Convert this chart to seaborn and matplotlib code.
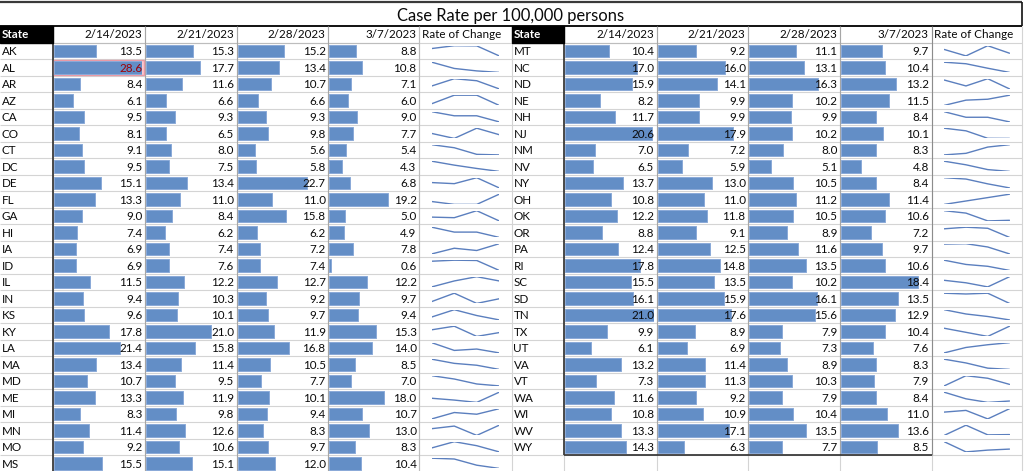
import numpy as np
import pandas as pd
import seaborn as sns
import matplotlib.pyplot as plt
from matplotlib.patches import Rectangle

# ---- data ----
dates = ['2/14/2023', '2/21/2023', '2/28/2023', '3/7/2023']

states_left = ['AK', 'AL', 'AR', 'AZ', 'CA', 'CO', 'CT', 'DC', 'DE', 'FL', 'GA', 'HI', 'IA',
               'ID', 'IL', 'IN', 'KS', 'KY', 'LA', 'MA', 'MD', 'ME', 'MI', 'MN', 'MO', 'MS']
rate_0214_left = [13.5, 28.6, 8.4, 6.1, 9.5, 8.1, 9.1, 9.5, 15.1, 13.3, 9.0, 7.4, 6.9,
                  6.9, 11.5, 9.4, 9.6, 17.8, 21.4, 13.4, 10.7, 13.3, 8.3, 11.4, 9.2, 15.5]
rate_0221_left = [15.3, 17.7, 11.6, 6.6, 9.3, 6.5, 8.0, 7.5, 13.4, 11.0, 8.4, 6.2, 7.4,
                  7.6, 12.2, 10.3, 10.1, 21.0, 15.8, 11.4, 9.5, 11.9, 9.8, 12.6, 10.6, 15.1]
rate_0228_left = [15.2, 13.4, 10.7, 6.6, 9.3, 9.8, 5.6, 5.8, 22.7, 11.0, 15.8, 6.2, 7.2,
                  7.4, 12.7, 9.2, 9.7, 11.9, 16.8, 10.5, 7.7, 10.1, 9.4, 8.3, 9.7, 12.0]
rate_0307_left = [8.8, 10.8, 7.1, 6.0, 9.0, 7.7, 5.4, 4.3, 6.8, 19.2, 5.0, 4.9, 7.8,
                  0.6, 12.2, 9.7, 9.4, 15.3, 14.0, 8.5, 7.0, 18.0, 10.7, 13.0, 8.3, 10.4]

states_right = ['MT', 'NC', 'ND', 'NE', 'NH', 'NJ', 'NM', 'NV', 'NY', 'OH', 'OK', 'OR', 'PA',
                'RI', 'SC', 'SD', 'TN', 'TX', 'UT', 'VA', 'VT', 'WA', 'WI', 'WV', 'WY']
rate_0214_right = [10.4, 17.0, 15.9, 8.2, 11.7, 20.6, 7.0, 6.5, 13.7, 10.8, 12.2, 8.8, 12.4,
                   17.8, 15.5, 16.1, 21.0, 9.9, 6.1, 13.2, 7.3, 11.6, 10.8, 13.3, 14.3]
rate_0221_right = [9.2, 16.0, 14.1, 9.9, 9.9, 17.9, 7.2, 5.9, 13.0, 11.0, 11.8, 9.1, 12.5,
                   14.8, 13.5, 15.9, 17.6, 8.9, 6.9, 11.4, 11.3, 9.2, 10.9, 17.1, 6.3]
rate_0228_right = [11.1, 13.1, 16.3, 10.2, 9.9, 10.2, 8.0, 5.1, 10.5, 11.2, 10.5, 8.9, 11.6,
                   13.5, 10.2, 16.1, 15.6, 7.9, 7.3, 8.9, 10.3, 7.9, 10.4, 13.5, 7.7]
rate_0307_right = [9.7, 10.4, 13.2, 11.5, 8.4, 10.1, 8.3, 4.8, 8.4, 11.4, 10.6, 7.2, 9.7,
                   10.6, 18.4, 13.5, 12.9, 10.4, 7.6, 8.3, 7.9, 8.4, 11.0, 13.6, 8.5]

# cells above this are flagged red on the sheet
HIGHLIGHT_ABOVE = 25.0

# ---- sheet geometry (pixels) ----
W, H = 1024, 471
ROW_H = 16.5
HEAD_TOP, DATA_TOP = 26.0, 42.7
EDGES_LEFT = [0.0, 53.3, 145.0, 236.7, 328.3, 419.3, 511.7]
EDGES_RIGHT = [511.7, 564.3, 656.7, 748.3, 840.0, 931.7, 1022.0]

BAR_BLUE = '#638EC6'
SPARK_BLUE = '#5B7FBE'
TXT = '#0A0A0A'
FONT = ['Lato', 'DejaVu Sans']
FS = 8.4

sns.set_theme(style='white')
plt.rcParams['font.family'] = FONT

fig = plt.figure(figsize=(W / 100, H / 100), dpi=100)
base = fig.add_axes([0, 0, 1, 1])
base.set_xlim(0, W)
base.set_ylim(H, 0)
base.axis('off')


def box(x0, y0, x1, y1):
    return [x0 / W, 1 - y1 / H, (x1 - x0) / W, (y1 - y0) / H]


def hline(y, x0, x1, color, lw=0.8):
    base.plot([x0, x1], [y, y], color=color, lw=lw, solid_capstyle='butt', zorder=1)


def vline(x, y0, y1, color, lw=0.8):
    base.plot([x, x], [y0, y1], color=color, lw=lw, solid_capstyle='butt', zorder=1)


# light sheet gridlines
y = DATA_TOP
while y < H:
    hline(y, 0, 1022, '#D4D4D4')
    y += ROW_H
for x in EDGES_LEFT[1:] + EDGES_RIGHT[1:]:
    vline(x, HEAD_TOP, H, '#D4D4D4')

# title row borders
hline(1.5, 0, 1022, '#3A3A3A', lw=1.6)
hline(25.5, 0, 1022, '#111111', lw=1.4)
vline(1022, 1.5, 25.5, '#111111', lw=1.2)
base.text(511, 20.6, 'Case Rate per 100,000 persons', ha='center', va='baseline',
          fontsize=11.9, color=TXT, family=FONT)


def draw_half(edges, states, cols, bottom):
    n = len(states)
    data_bot = DATA_TOP + n * ROW_H
    # header
    base.add_patch(Rectangle((edges[0], HEAD_TOP), edges[1] - edges[0], DATA_TOP - HEAD_TOP,
                             color='black', zorder=2))
    base.text(edges[0] + 2, DATA_TOP - 4.3, 'State', color='white', fontsize=FS,
              fontweight='bold', va='baseline', family=FONT, zorder=3)
    for j, d in enumerate(dates):
        base.text(edges[j + 2] - 2.7, DATA_TOP - 4.3, d, ha='right', va='baseline',
                  fontsize=FS, color=TXT, family=FONT, zorder=3)
    base.text(edges[5] + 2.3, DATA_TOP - 4.3, 'Rate of Change', ha='left', va='baseline',
              fontsize=FS, color=TXT, family=FONT, zorder=3)
    hline(DATA_TOP, edges[1], edges[5], '#BDBDBD')
    # table borders
    for x in edges[2:5]:
        vline(x, HEAD_TOP, bottom, '#A6A6A6')
    vline(edges[5], HEAD_TOP, bottom, '#8C8C8C' if bottom < H else '#BDBDBD')
    vline(edges[1], HEAD_TOP, bottom, '#3C3C3C', lw=1.3)
    if bottom < H:
        hline(bottom, edges[1], edges[5], '#3C3C3C', lw=1.3)

    # state names
    for i, s in enumerate(states):
        base.text(edges[0] + 1.8, DATA_TOP + i * ROW_H + 12.4, s, fontsize=FS,
                  color=TXT, va='baseline', family=FONT)

    vmax = max(max(c) for c in cols)
    for j, vals in enumerate(cols):
        x0 = edges[j + 1] + 1.0
        x1 = edges[j + 2] - 2.7
        ax = fig.add_axes(box(x0, DATA_TOP, x1, data_bot))
        df = pd.DataFrame({'state': states, 'rate': vals})
        sns.barplot(data=df, x='rate', y='state', orient='h', color=BAR_BLUE,
                    saturation=1, width=0.77, edgecolor='#8AAAD8', linewidth=0.7, ax=ax)
        ax.set_xlim(0, vmax)
        ax.set_ylim(n - 0.5, -0.5)
        ax.axis('off')
        ax.patch.set_alpha(0)
        for i, v in enumerate(vals):
            txt_color = TXT
            if v > HIGHLIGHT_ABOVE:
                # flagged cell: light red fill with dark red text
                base.add_patch(Rectangle((edges[j + 1] + 0.6, DATA_TOP + i * ROW_H + 0.4),
                                         edges[j + 2] - edges[j + 1] - 1.2, ROW_H - 0.8,
                                         facecolor='#FFC7CE', edgecolor='#E89AA6', lw=1.0,
                                         zorder=2))
                txt_color = '#9C0006'
            ax.text(1.0, i + 0.25, f'{v:.1f}', transform=ax.get_yaxis_transform(),
                    ha='right', va='baseline', fontsize=FS, color=txt_color,
                    family=FONT, clip_on=False)

    # sparklines
    sx0, sx1 = edges[5] + 12.5, edges[6] - 12.5
    for i in range(n):
        top = DATA_TOP + i * ROW_H
        ax = fig.add_axes(box(sx0, top + 3.0, sx1, top + ROW_H - 3.3))
        row = [c[i] for c in cols]
        sns.lineplot(x=range(len(dates)), y=row, ax=ax, color=SPARK_BLUE, lw=1.0)
        ax.set_xlim(0, len(dates) - 1)
        ax.set_ylim(min(row), max(row))
        ax.axis('off')
        ax.patch.set_alpha(0)


draw_half(EDGES_LEFT, states_left,
          [rate_0214_left, rate_0221_left, rate_0228_left, rate_0307_left], H)
draw_half(EDGES_RIGHT, states_right,
          [rate_0214_right, rate_0221_right, rate_0228_right, rate_0307_right],
          DATA_TOP + len(states_right) * ROW_H)

fig.savefig('out.png', dpi=100)
